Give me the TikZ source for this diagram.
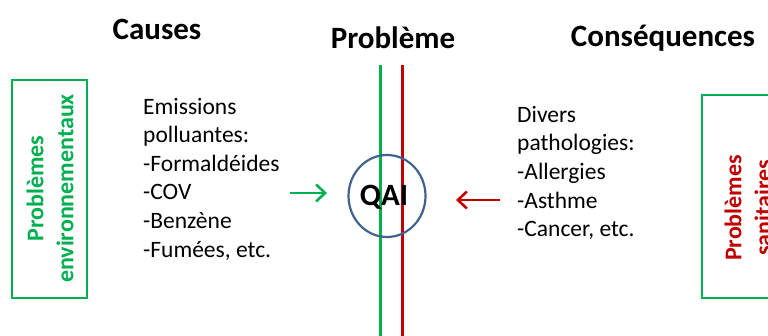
\documentclass[tikz,border=0pt]{standalone}
\usepackage{fontspec}
\setmainfont{Carlito}
\usetikzlibrary{shapes.geometric,arrows.meta}
\definecolor{vert}{HTML}{00B050}
\definecolor{rouge}{HTML}{C00000}
\definecolor{bleu}{HTML}{41638F}
\begin{document}
\begin{tikzpicture}[x=1pt,y=-1pt,
  titre/.style={font=\bfseries\fontsize{31}{37}\selectfont, inner sep=0pt},
  liste/.style={font=\fontsize{23.5}{28.6}\selectfont, align=left, anchor=west, inner sep=0pt},
  cadre/.style={draw=vert, line width=2.8pt},
  vertical/.style={font=\bfseries\fontsize{24}{30}\selectfont, rotate=90, align=center, inner sep=0pt},
  fleche/.style={line width=2.6pt, -{Straight Barb[length=9pt,width=17pt]}}]
\useasboundingbox (0,0) rectangle (768,336);
% titres
\node[titre] (causes) at (157,29) {Causes};
\node[titre] (probleme) at (393,38) {Problème};
\node[titre] (consequences) at (663,38) {Conséquences};
% cadres lateraux
\draw[cadre] (12,80) rectangle (87,298);
\node[vertical, text=vert] (envir) at (50,188.5) {Problèmes\\environnementaux};
\draw[cadre] (702,95) rectangle (790,298);
\node[vertical, text=rouge] (sanit) at (748,208) {Problèmes\\sanitaires};
% lignes
\coordinate (g1) at (380,65);
\coordinate (g2) at (380,340);
\coordinate (r1) at (402,65);
\coordinate (r2) at (402,340);
\draw[vert, line width=3pt] (g1) -- (g2);
\draw[rouge, line width=3pt] (r1) -- (r2);
% QAI
\node[draw=bleu, line width=2.2pt, ellipse, minimum width=77pt, minimum height=82pt, inner sep=0pt] (qai) at (387,196) {};
\node[font=\bfseries\fontsize{31}{36}\selectfont, inner sep=0pt] (qaitxt) at (384,197) {QAI};
% textes
\node[liste] (em) at (143,179) {Emissions\\polluantes:\\-Formaldéides\\-COV\\-Benzène\\-Fumées, etc.};
\node[liste] (div) at (517,173) {Divers\\pathologies:\\-Allergies\\-Asthme\\-Cancer, etc.};
% fleches
\coordinate (a1) at (290,193);
\coordinate (a2) at (327,193);
\coordinate (b1) at (500,200);
\coordinate (b2) at (456,200);
\draw[vert, fleche] (a1) -- (a2);
\draw[rouge, fleche] (b1) -- (b2);
\end{tikzpicture}
\end{document}
